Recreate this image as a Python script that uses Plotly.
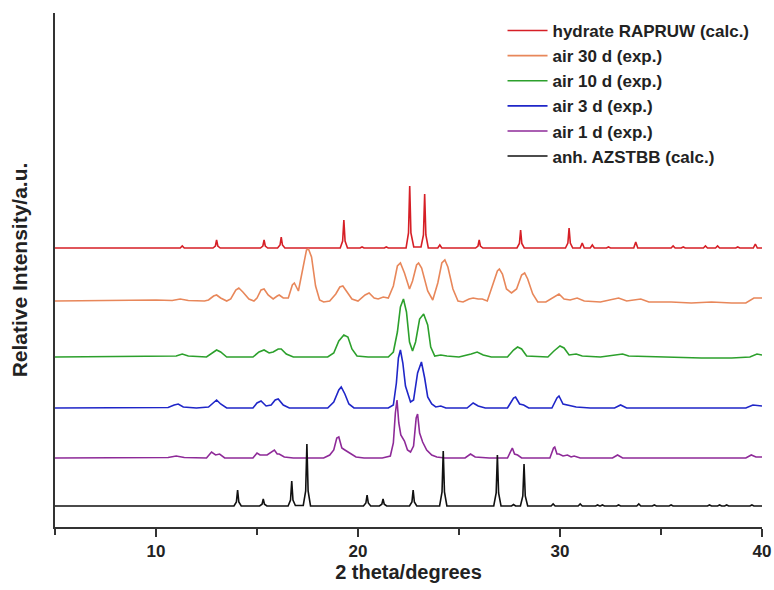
import plotly.graph_objects as go

# ---- data: (2theta, intensity above own baseline) ----
hydrate_pts = [
    (5.0, 0), (11.2, 0), (11.3, 2), (11.4, 0),
    (12.82, 0), (12.94, 2), (13.0, 8), (13.06, 2), (13.18, 0),
    (15.17, 0), (15.29, 2), (15.35, 8), (15.41, 2), (15.53, 0),
    (16.02, 0), (16.14, 3), (16.2, 11), (16.26, 3), (16.38, 0),
    (19.12, 0), (19.24, 7), (19.3, 28), (19.36, 7), (19.48, 0),
    (20.1, 0), (20.2, 1), (20.3, 0), (21.3, 0), (21.4, 1), (21.5, 0),
    (22.38, 0), (22.5, 15), (22.56, 62), (22.62, 15), (22.76, 1),
    (23.12, 1), (23.24, 13), (23.3, 54), (23.36, 13), (23.48, 0),
    (23.95, 0), (24.05, 3), (24.15, 0),
    (25.82, 0), (25.94, 2), (26.0, 8), (26.06, 2), (26.18, 0),
    (27.87, 0), (27.99, 4.5), (28.05, 18), (28.11, 4.5), (28.23, 0),
    (30.27, 0), (30.39, 5), (30.45, 20), (30.51, 5), (30.63, 0),
    (31.0, 0), (31.1, 5), (31.2, 0), (31.5, 0), (31.6, 3), (31.7, 0),
    (32.3, 0), (32.4, 1), (32.5, 0), (33.65, 0), (33.75, 6), (33.85, 0),
    (35.5, 0), (35.6, 2), (35.7, 0), (36.0, 0), (36.1, 1), (36.2, 0),
    (37.1, 0), (37.2, 2), (37.3, 0), (37.7, 0), (37.8, 2), (37.9, 0),
    (38.7, 0), (38.8, 1), (38.9, 0), (39.57, 0), (39.67, 4), (39.77, 0), (40.0, 0),
]

air30_pts = [
    (5.0, 0), (6.0, 0.3), (7.0, 0.6), (8.0, 1), (9.0, 1.3), (10.0, 1), (10.8, 0.5), (11.2, 2),
    (11.6, 0.5), (12.4, 0), (12.6, 1), (12.85, 5), (13.0, 6), (13.2, 3), (13.5, 0),
    (13.7, 2), (13.95, 11), (14.1, 13), (14.3, 9), (14.6, 2), (14.85, 0),
    (15.0, 3), (15.2, 11), (15.35, 12), (15.55, 6), (15.8, 2),
    (16.0, 5), (16.1, 6), (16.3, 3), (16.55, 3), (16.75, 16), (16.85, 18), (17.05, 10),
    (17.25, 30), (17.45, 51), (17.55, 52), (17.7, 44), (17.9, 15), (18.1, 1), (18.3, -1), (18.6, 0),
    (18.9, 7), (19.1, 14), (19.25, 15), (19.45, 9), (19.7, 2), (20.0, 0),
    (20.35, 6), (20.55, 8), (20.8, 3), (21.0, 2), (21.25, 4), (21.5, 3),
    (21.75, 15), (21.95, 35), (22.1, 38), (22.3, 28), (22.55, 12), (22.7, 20), (22.9, 36),
    (23.0, 38), (23.15, 33), (23.45, 10), (23.7, 1),
    (23.95, 18), (24.15, 38), (24.3, 41), (24.45, 34), (24.7, 12), (24.95, 0), (25.2, -1),
    (25.5, 2), (25.7, 3), (25.95, 2), (26.15, 2), (26.4, 0),
    (26.7, 18), (26.9, 30), (27.0, 32), (27.15, 27), (27.35, 12), (27.6, 8), (27.85, 12),
    (28.1, 26), (28.25, 28), (28.4, 22), (28.65, 7), (28.9, -1), (29.3, -1),
    (29.75, 4), (29.95, 7), (30.2, 2), (30.5, 1), (30.85, 3), (31.2, 0), (32.0, -1),
    (32.9, 3), (33.3, 0), (34.0, 2), (34.4, -1), (35.5, -1), (36.5, -2), (37.5, -1),
    (38.5, -2), (39.2, -2), (39.6, 3), (40.0, 3),
]

air10_pts = [
    (5.0, 0), (8.0, 0.5), (10.0, 1), (11.0, 1), (11.3, 3), (11.6, 1), (12.5, 0),
    (12.8, 4), (13.0, 7), (13.2, 5), (13.5, 0), (14.8, 0), (15.1, 5), (15.35, 7),
    (15.6, 4), (15.8, 5), (16.05, 8), (16.2, 8), (16.45, 3), (16.8, 0), (18.5, 0),
    (18.8, 4), (19.05, 16), (19.3, 22), (19.5, 20), (19.7, 8), (19.95, 1), (20.5, 0),
    (21.5, 0), (21.75, 5), (21.95, 25), (22.1, 50), (22.25, 58), (22.4, 45), (22.55, 15),
    (22.7, 6), (22.85, 15), (23.05, 38), (23.25, 43), (23.45, 32), (23.6, 10), (23.8, 1),
    (24.1, 2), (24.4, 1), (25.0, 0), (25.6, 3), (25.9, 5), (26.2, 2), (26.6, 0),
    (27.4, 0), (27.7, 7), (27.9, 10), (28.1, 8), (28.35, 1), (29.4, 0), (29.7, 6),
    (30.0, 11), (30.2, 9), (30.45, 2), (30.8, 3), (31.1, 1), (32.0, 0), (32.8, 2),
    (33.1, 3), (33.4, 1), (35.0, 0), (37.0, -1), (38.5, -1), (39.4, 0), (39.75, 3), (40.0, 2),
]

air3_pts = [
    (5.0, 0), (9.0, 0.5), (10.6, 0.5), (10.9, 3), (11.1, 4), (11.35, 1), (12.0, 0),
    (12.6, 1), (12.85, 6), (13.0, 8), (13.2, 4), (13.5, 0), (14.8, 0), (15.0, 5),
    (15.2, 7), (15.45, 2), (15.7, 3), (15.9, 8), (16.05, 9), (16.3, 3), (16.6, 0),
    (18.5, 0), (18.8, 6), (19.05, 18), (19.17, 21), (19.35, 14), (19.55, 4), (19.8, 0),
    (21.5, 0), (21.75, 3), (21.9, 25), (22.0, 50), (22.1, 58), (22.22, 45), (22.35, 22),
    (22.45, 16), (22.6, 6), (22.75, 8), (22.95, 35), (23.14, 46), (23.3, 30), (23.45, 11),
    (23.65, 4), (23.85, 1), (24.1, 2), (24.35, 0), (25.4, 0), (25.7, 5), (25.95, 2),
    (26.3, 0), (27.4, 0), (27.7, 10), (27.8, 11), (28.0, 4), (28.2, 3), (28.45, 0),
    (29.6, 0), (29.85, 10), (29.95, 12), (30.15, 4), (30.5, 2), (30.8, 1), (31.5, 0),
    (32.7, 0), (33.0, 3), (33.3, 0), (35.0, 0), (37.0, 0), (38.5, 0), (39.2, 0),
    (39.55, 3), (40.0, 2),
]

air1_pts = [
    (5.0, 0), (9.0, 0.5), (10.6, 0.5), (11.0, 2), (11.4, 0.5), (12.5, 0), (12.75, 6),
    (12.95, 3), (13.15, 4), (13.4, 0), (14.8, 0), (15.0, 5), (15.15, 3), (15.5, 3),
    (15.75, 6), (15.86, 8), (16.0, 4), (16.1, 4), (16.35, 1), (16.8, 0), (18.3, 0),
    (18.6, 3), (18.8, 8), (18.95, 20), (19.05, 21), (19.2, 10), (19.35, 8), (19.6, 5),
    (19.9, 1), (20.3, 0), (21.2, 0), (21.6, 2), (21.75, 15), (21.85, 45), (21.93, 58),
    (22.02, 35), (22.12, 23), (22.3, 17), (22.45, 8), (22.6, 6), (22.75, 12), (22.88, 40),
    (22.95, 44), (23.05, 25), (23.2, 16), (23.4, 8), (23.65, 3), (23.9, 1), (24.3, 0),
    (25.3, 0), (25.57, 4), (25.8, 1), (26.5, 0), (27.4, 0), (27.58, 8), (27.64, 10),
    (27.75, 4), (27.9, 3), (28.1, 0), (29.5, 0), (29.68, 10), (29.74, 11), (29.85, 4),
    (29.95, 4), (30.15, 2), (30.37, 3), (30.55, 1), (30.7, 2), (31.0, 0), (32.6, 0),
    (32.85, 3), (33.1, 0), (35.0, 0), (37.0, 0), (39.2, 0), (39.47, 3), (39.7, 1), (40.0, 1),
]

anh_pts = [
    (5.0, 0), (13.86, 0), (13.98, 4), (14.04, 16), (14.10, 4), (14.22, 0),
    (15.13, 0), (15.25, 1.8), (15.31, 7), (15.37, 1.8), (15.49, 0),
    (16.54, 0), (16.66, 6), (16.72, 25), (16.78, 6), (16.9, 0.5),
    (17.29, 0.5), (17.41, 15), (17.47, 62), (17.53, 15), (17.65, 0),
    (20.27, 0), (20.39, 3), (20.45, 11), (20.51, 3), (20.63, 0),
    (21.06, 0), (21.18, 1.8), (21.24, 7), (21.3, 1.8), (21.42, 0),
    (22.55, 0), (22.67, 4), (22.73, 16), (22.79, 4), (22.91, 0),
    (24.04, 0), (24.16, 14), (24.22, 55), (24.28, 14), (24.4, 0),
    (26.72, 0), (26.84, 13), (26.9, 51), (26.96, 13), (27.08, 0),
    (27.6, 0), (27.7, 1.5), (27.8, 0),
    (28.04, 0), (28.16, 10), (28.22, 42), (28.28, 10), (28.4, 0),
    (29.56, 0), (29.66, 2), (29.76, 0), (30.9, 0), (31.0, 2), (31.1, 0),
    (31.76, 0), (31.86, 1), (31.96, 0), (32.0, 0), (32.1, 1), (32.2, 0),
    (32.8, 0), (32.9, 1), (33.0, 0), (33.8, 0), (33.9, 2), (34.0, 0),
    (34.57, 0), (34.67, 1), (34.77, 0), (35.4, 0), (35.5, 1), (35.6, 0),
    (37.3, 0), (37.4, 1), (37.5, 0), (37.8, 0), (37.9, 1), (38.0, 0),
    (38.15, 0), (38.25, 1), (38.35, 0), (39.4, 0), (39.5, 1), (39.6, 0), (40.0, 0),
]

series_names = ["hydrate RAPRUW (calc.)", "air 30 d (exp.)", "air 10 d (exp.)",
                "air 3 d (exp.)", "air 1 d (exp.)", "anh. AZSTBB (calc.)"]
series_data = [hydrate_pts, air30_pts, air10_pts, air3_pts, air1_pts, anh_pts]
offsets = [279, 226, 170, 119, 69, 21]
colors = ["#d61f26", "#e8875a", "#2ca02c", "#1f26c8", "#8e2a98", "#111111"]

x_ticks = [10, 20, 30, 40]

fig = go.Figure()
for name, pts, off, col in zip(series_names, series_data, offsets, colors):
    fig.add_trace(go.Scatter(
        x=[p[0] for p in pts],
        y=[p[1] + off for p in pts],
        mode="lines", name=name,
        line=dict(color=col, width=1.6),
    ))

font_family = "Liberation Sans, Arial, sans-serif"
fig.update_layout(
    width=774, height=590,
    margin=dict(l=55, r=12, t=13, b=63, autoexpand=False),
    paper_bgcolor="white", plot_bgcolor="white",
    font=dict(family=font_family, color="#222"),
    showlegend=True,
    legend=dict(
        x=0.633, y=1.0, xanchor="left", yanchor="top",
        font=dict(size=17, family=font_family, weight="bold", color="#222"),
        bgcolor="rgba(0,0,0,0)", itemwidth=40,
    ),
    xaxis=dict(
        range=[5, 40], showgrid=False, zeroline=False, automargin=False,
        showline=True, linecolor="#333", linewidth=2,
        ticks="outside", ticklen=8, tickwidth=2, tickcolor="#333",
        tickvals=x_ticks,
        tickfont=dict(size=17, family=font_family, weight="bold", color="#222"),
        minor=dict(tickvals=[5, 15, 25, 35], ticks="outside", ticklen=6,
                   tickwidth=2, tickcolor="#333"),
        title=dict(text="2 theta/degrees", standoff=5,
                   font=dict(size=20, family=font_family, weight="bold", color="#222")),
    ),
    yaxis=dict(
        range=[0, 514], showgrid=False, zeroline=False, automargin=False,
        showline=True, linecolor="#333", linewidth=2,
        ticks="", showticklabels=False,
        title=dict(text="Relative Intensity/a.u.", standoff=20,
                   font=dict(size=21, family=font_family, weight="bold", color="#222")),
    ),
)

fig.write_html("out.html")
